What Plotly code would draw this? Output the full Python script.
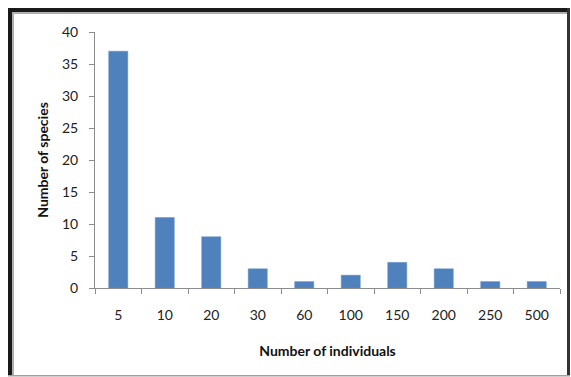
import plotly.graph_objects as go

# Species abundance distribution
individual_classes = ["5", "10", "20", "30", "60", "100", "150", "200", "250", "500"]
species_counts = [37, 11, 8, 3, 1, 2, 4, 3, 1, 1]
y_tick_values = [0, 5, 10, 15, 20, 25, 30, 35, 40]

W, H = 571, 377
L, R, T, B = 95, 11, 32, 89
plot_w = W - L - R
plot_h = H - T - B


def px_x(x):
    return (x - L) / plot_w


def px_y(y):
    return (H - B - y) / plot_h


fig = go.Figure(
    go.Bar(
        x=individual_classes,
        y=species_counts,
        marker=dict(color="#4F81BD", line=dict(color="#5B8CC6", width=0.5)),
    )
)

font_family = "Lato, 'Open Sans', sans-serif"

fig.update_layout(
    width=W,
    height=H,
    margin=dict(l=L, r=R, t=T, b=B),
    paper_bgcolor="white",
    plot_bgcolor="white",
    bargap=0.59,
    showlegend=False,
    font=dict(family=font_family, size=14, color="#222"),
    xaxis=dict(
        type="category",
        tickson="boundaries",
        ticks="outside",
        ticklen=5,
        tickcolor="#8c8c8c",
        showline=True,
        linecolor="#8c8c8c",
        linewidth=1,
        showgrid=False,
        ticklabelstandoff=14,
        tickfont=dict(size=14, color="#222"),
        title=dict(
            text="<b>Number of individuals</b>",
            font=dict(size=14, color="#111"),
            standoff=24,
        ),
    ),
    yaxis=dict(
        range=[0, 40],
        tickvals=y_tick_values,
        ticks="outside",
        ticklen=5,
        tickcolor="#8c8c8c",
        showline=True,
        linecolor="#8c8c8c",
        linewidth=1,
        showgrid=False,
        zeroline=False,
        ticklabelstandoff=8,
        tickfont=dict(size=14, color="#222"),
        title=dict(
            text="<b>Number of species</b>",
            font=dict(size=14, color="#111"),
            standoff=10,
        ),
    ),
)

# Framed border around the chart area
frame = [
    # top dark band and light inner edge
    (8, 8, 569, 12, "#1a1a1a"),
    (12, 12, 569, 14, "#b0b0b0"),
    # left dark band and light inner edge
    (8, 8, 12, 376, "#1a1a1a"),
    (12, 12, 14, 376, "#b0b0b0"),
    # right edge
    (567, 8, 570, 376, "#333333"),
    # bottom edge
    (8, 375, 570, 376.5, "#a0a0a0"),
]
for x0, y0, x1, y1, c in frame:
    fig.add_shape(
        type="rect",
        xref="paper",
        yref="paper",
        x0=px_x(x0),
        x1=px_x(x1),
        y0=px_y(y1),
        y1=px_y(y0),
        fillcolor=c,
        line=dict(width=0),
        layer="above",
    )

fig.write_html("out.html")
